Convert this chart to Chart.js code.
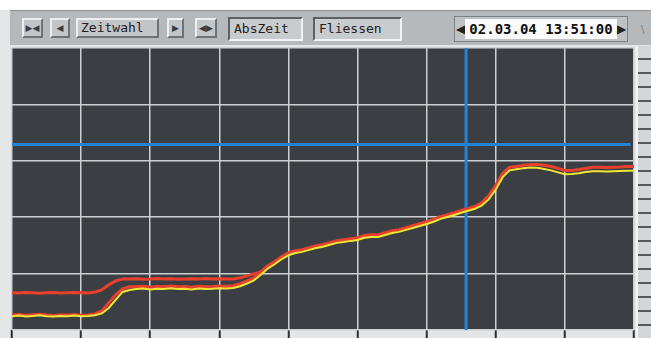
<!DOCTYPE html>
<html>
<head>
<meta charset="utf-8">
<script src="https://cdn.jsdelivr.net/npm/chart.js@4"></script>
<style>
  html, body { margin: 0; padding: 0; background: #fff; }
  #wrap { position: relative; width: 651px; height: 338px; overflow: hidden; background: #e4e5e6; }
  #wrap canvas { position: absolute; left: 0; top: 0; }
  .bar { position: absolute; left: 10px; top: 10px; width: 641px; height: 34px; background: #b6b9bc;
         border-top: 1px solid #8e9194; }
  .top { position: absolute; left: 0; top: 0; width: 651px; height: 10px; background: #fff; }
  .btn { position: absolute; top: 18px; height: 20px; background: #c3c6c9; box-sizing: border-box;
         border: 2px solid; border-color: #eceeef #6f7275 #6f7275 #eceeef;
         font: 9px "DejaVu Sans"; color: #3a3c3e; text-align: center; line-height: 16px; }
  .btn.txt { font: 13px "DejaVu Sans Mono"; color: #1e2022; line-height: 16px; text-align: left; padding-left: 3px; }
  .fld { position: absolute; top: 17px; height: 24px; box-sizing: border-box; background: #c9ccce;
         border: 2px solid; border-color: #5e6164 #f2f3f4 #f2f3f4 #5e6164;
         font: 13px "DejaVu Sans Mono"; color: #1e2022; line-height: 20px; padding-left: 4px; }
  .date { position: absolute; left: 454px; top: 16px; width: 174px; height: 26px; box-sizing: border-box;
          background: #bfc2c5; border: 1px solid #7d8083; }
  .date .in { position: absolute; left: 10px; top: 2px; width: 152px; height: 20px; background: #fafafa;
              font: bold 14px "DejaVu Sans Mono"; color: #111; line-height: 20px; text-align: center; }
  .date .ar { position: absolute; top: 2px; font: 12px "DejaVu Sans"; color: #222; line-height: 20px; }
  .strip { position: absolute; left: 636px; top: 46px; width: 15px; height: 292px; background-color: #d3d6d8;
           border-left: 2px solid #f4f4f4;
           background-image: repeating-linear-gradient(180deg, transparent 0 12px, #55585b 12px 14px); }
  .mark { position: absolute; left: 641px; top: 24px; font: 10px "DejaVu Sans"; color: #777; }
</style>
</head>
<body>
<div id="wrap">
  <canvas id="trend" width="651" height="338"></canvas>
  <div class="top"></div>
  <div class="bar"></div>
  <div class="btn" style="left:22px;width:21px">&#9654;&#9664;</div>
  <div class="btn" style="left:50px;width:20px">&#9664;</div>
  <div class="btn txt" style="left:76px;width:83px">Zeitwahl</div>
  <div class="btn" style="left:167px;width:17px">&#9654;</div>
  <div class="btn" style="left:195px;width:22px">&#9664;&#9654;</div>
  <div class="fld" style="left:228px;width:75px">AbsZeit</div>
  <div class="fld" style="left:313px;width:89px">Fliessen</div>
  <div class="date">
    <span class="ar" style="left:1px">&#9664;</span>
    <div class="in">02.03.04 13:51:00</div>
    <span class="ar" style="left:162px">&#9654;</span>
  </div>
  <div class="mark">\</div>
  <div class="strip"></div>
</div>
<script>
// Zeitachse 0..90 (Rasterteilung 10), Messwert 0..100 %
const zeit = Array.from({ length: 91 }, (_, i) => i);

// obere rote Kurve (nur bis sie in die untere übergeht)
const rotOben = [
  13.2, 13.1, 13.3, 13.2, 13.0, 13.2, 13.3, 13.1, 13.2, 13.3, 13.2, 13.1,
  13.5, 14.2, 16.0, 17.4, 18.1,
  18.1, 18.2, 18.0, 18.1, 18.3, 18.1, 18.2, 18.0, 18.1, 18.2, 18.1, 18.3, 18.1, 18.2, 18.1, 18.1,
  18.5, 19.2, 19.9, 20.6
];

// rote Hauptkurve
const rot = [
  5.3, 5.5, 5.2, 5.4, 5.6, 5.3, 5.1, 5.4, 5.3, 5.5, 5.2, 5.3,
  5.7, 6.8, 9.6, 12.5, 14.6, 15.3,
  15.3, 15.5, 15.2, 15.4, 15.3, 15.6, 15.3, 15.4, 15.2, 15.5, 15.3, 15.4, 15.6, 15.5,
  15.7, 16.4, 17.4, 18.5, 20.6, 22.8, 24.2, 26.0, 27.4, 28.1,
  28.5, 29.2, 29.9, 30.3, 31.0, 31.7, 32.0, 32.4, 32.7, 33.5,
  33.8, 33.8, 34.5, 35.2, 35.6, 36.3, 37.0, 37.7, 38.4, 39.2,
  40.2, 40.9, 41.6, 42.4, 43.1, 43.8, 45.2, 47.7, 51.3, 55.5,
  57.7, 58.0, 58.4, 58.7, 58.7, 58.4, 58.0, 57.3, 56.6, 56.6,
  56.9, 57.3, 57.7, 57.7, 57.6, 57.7, 57.8, 58.0, 58.0
];

// gelbe Kurve
const gelb = [
  4.9, 5.1, 4.8, 5.0, 5.2, 4.9, 4.8, 5.0, 4.9, 5.1, 4.9, 5.0,
  5.2, 5.9, 7.8, 10.7, 13.5, 14.2,
  14.5, 14.7, 14.4, 14.6, 14.5, 14.8, 14.5, 14.6, 14.4, 14.7, 14.5, 14.6, 14.8, 14.7,
  14.9, 15.5, 16.5, 17.6, 19.6, 21.8, 23.3, 25.1, 26.5, 27.3,
  27.7, 28.4, 29.1, 29.5, 30.2, 30.9, 31.2, 31.6, 31.9, 32.7,
  33.0, 33.0, 33.7, 34.4, 34.8, 35.5, 36.2, 36.9, 37.6, 38.4,
  39.4, 40.1, 40.8, 41.6, 42.3, 43.0, 44.2, 46.4, 49.8, 54.2,
  56.6, 57.0, 57.4, 57.6, 57.5, 57.1, 56.6, 55.9, 55.2, 55.3,
  55.6, 56.0, 56.3, 56.3, 56.2, 56.3, 56.4, 56.5, 56.5
];

// Cursor-Positionen
const cursorZeit = 65.7;
const cursorWert = 65.8;

const punkte = (werte) => werte.map((v, i) => ({ x: zeit[i], y: v }));

// dunkler Hintergrund der Zeichenfläche
const hintergrund = {
  id: 'hintergrund',
  beforeDraw(chart) {
    const { ctx, chartArea: a } = chart;
    ctx.save();
    ctx.fillStyle = '#3b3f44';
    ctx.fillRect(a.left, a.top, a.right - a.left, a.bottom - a.top);
    ctx.restore();
  }
};

new Chart(document.getElementById('trend'), {
  type: 'line',
  data: {
    datasets: [
      { data: punkte(gelb), borderColor: '#f2e634', borderWidth: 2, order: 1 },
      { data: punkte(rot), borderColor: '#e8402c', borderWidth: 3, order: 2 },
      { data: punkte(rotOben), borderColor: '#e8402c', borderWidth: 3, order: 3 },
      { data: [{ x: cursorZeit, y: 0 }, { x: cursorZeit, y: 100 }], borderColor: '#2384d6', borderWidth: 3, order: 4 },
      { data: [{ x: 0, y: cursorWert }, { x: 89.5, y: cursorWert }], borderColor: '#2384d6', borderWidth: 3, order: 5 }
    ]
  },
  options: {
    responsive: false,
    animation: false,
    events: [],
    elements: { point: { radius: 0 }, line: { tension: 0, fill: false } },
    layout: { padding: { left: 12, right: 17, top: 48, bottom: 0 } },
    plugins: { legend: { display: false }, tooltip: { enabled: false } },
    scales: {
      x: {
        type: 'linear', min: 0, max: 90,
        border: { display: false },
        grid: { color: '#cdd0d2', lineWidth: 1.5, drawTicks: true, tickLength: 8, tickColor: '#2a2c2e', tickWidth: 2 },
        ticks: { display: false, stepSize: 10 }
      },
      y: {
        min: 0, max: 100,
        border: { display: false },
        grid: { color: '#cdd0d2', lineWidth: 1.5, drawTicks: false },
        ticks: { display: false, stepSize: 20 }
      }
    }
  },
  plugins: [hintergrund]
});
</script>
</body>
</html>
